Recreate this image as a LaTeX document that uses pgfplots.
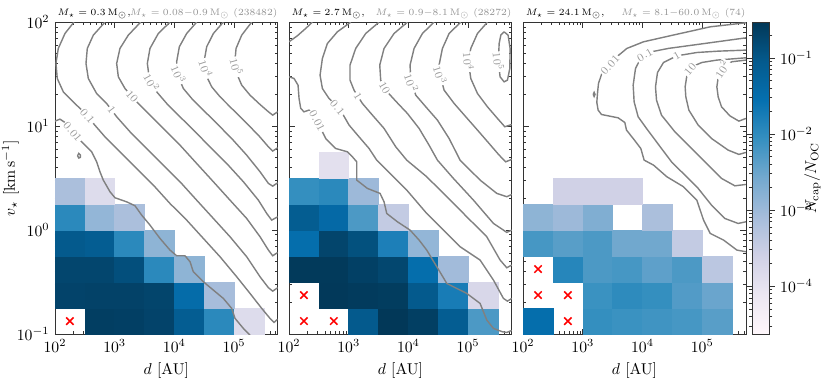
\documentclass[border=0pt]{standalone}
\usepackage{pgfplots}
\pgfplotsset{compat=1.18}

% axes are in log10 units: x = log10(d/AU), y = log10(v/km s^-1), colour = log10(Ncap/NOC)
\pgfplotsset{
  colormap={PuBu}{rgb255=(255,247,251) rgb255=(236,231,242) rgb255=(208,209,230)
    rgb255=(166,189,219) rgb255=(116,169,207) rgb255=(54,144,192) rgb255=(5,112,176)
    rgb255=(4,90,141) rgb255=(2,56,88)},
  panel/.style={
    scale only axis, width=141.9pt, height=198.7pt,
    xmin=2, xmax=5.732, ymin=-1, ymax=2,
    xtick={2,3,4,5}, xticklabels={$10^{2}$,$10^{3}$,$10^{4}$,$10^{5}$},
    minor xtick={2.301,2.477,2.602,2.699,2.778,2.845,2.903,2.954,
      3.301,3.477,3.602,3.699,3.778,3.845,3.903,3.954,
      4.301,4.477,4.602,4.699,4.778,4.845,4.903,4.954,
      5.301,5.477,5.602,5.699},
    ytick={-1,0,1,2},
    minor ytick={-0.699,-0.523,-0.398,-0.301,-0.222,-0.155,-0.097,-0.046,
      0.301,0.477,0.602,0.699,0.778,0.845,0.903,0.954,
      1.301,1.477,1.602,1.699,1.778,1.845,1.903,1.954},
    tick align=inside, major tick length=3.5pt, minor tick length=2pt,
    axis line style={black!80}, tick style={black!80, line width=0.5pt},
    xlabel={$d\ [\mathrm{AU}]$},
    clip marker paths=true,
    colormap name=PuBu, point meta min=-4.63, point meta max=-0.53,
    title style={at={(0,1)}, anchor=south west, yshift=-6pt,
      font=\fontsize{6.2}{8}\selectfont, inner xsep=1.5pt, inner ysep=1.8pt},
  },
  heat/.style={scatter, only marks, point meta=\thisrow{c}, mark=square*,
    mark size=8.28pt, mark options={xscale=1.148},
    scatter/use mapped color={draw=mapped color, fill=mapped color, line width=0.3pt}},
  ctr/.style={no marks, line width=0.9pt, color=black!50},
  xmk/.style={only marks, mark=x, mark size=3.3pt, red, mark options={line width=1pt}},
}
\tikzset{
  clab/.style={font=\fontsize{7.5}{9}\selectfont, text=black!40, fill=white, inner sep=0.6pt},
  rtitle/.style={anchor=south east, font=\fontsize{6.05}{8}\selectfont, text=black!42,
    inner xsep=0pt, inner ysep=1.8pt},
}

\begin{document}
\begin{tikzpicture}
\useasboundingbox (-35pt,-29.3pt) rectangle (488.6pt,212.8pt);

% ---------------- panel 1 ----------------
\begin{axis}[panel, at={(0pt,0pt)}, anchor=south west,
  yticklabels={$10^{-1}$,$10^{0}$,$10^{1}$,$10^{2}$},
  ylabel={$v_\star\ [\mathrm{km\,s^{-1}}]$},
  ylabel style={at={(axis description cs:-0.20,0.5)}, anchor=center},
  title={$M_\star=0.3\,\mathrm{M}_\odot$,},
  extra description/.code={\node[rtitle] at (1,1) {$M_\star=0.08{-}0.9\,\mathrm{M}_\odot$ (238482)};}]
\addplot[heat] table {
x y c
2.75 -0.875 -0.62
3.25 -0.875 -0.64
3.75 -0.875 -0.70
4.25 -0.875 -1.12
4.75 -0.875 -1.95
5.25 -0.875 -3.85
2.25 -0.625 -0.70
2.75 -0.625 -0.68
3.25 -0.625 -0.68
3.75 -0.625 -0.72
4.25 -0.625 -1.45
4.75 -0.625 -3.10
2.25 -0.375 -0.74
2.75 -0.375 -0.74
3.25 -0.375 -0.88
3.75 -0.375 -1.95
4.25 -0.375 -2.85
2.25 -0.125 -1.04
2.75 -0.125 -1.12
3.25 -0.125 -1.95
3.75 -0.125 -2.85
2.25 0.125 -1.95
2.75 0.125 -2.90
3.25 0.125 -3.15
2.25 0.375 -3.15
2.75 0.375 -3.85
};
\addplot[xmk] coordinates {(2.25,-0.875)};
\addplot[ctr] coordinates {(2.000,1.048) (2.084,1.067) (2.168,1.035) (2.251,0.978) (2.391,0.881) (2.503,0.817) (2.615,0.753) (2.698,0.657) (2.754,0.561) (2.810,0.481) (2.922,0.369) (3.006,0.311) (3.201,0.272) (3.341,0.234) (3.453,0.144) (3.592,0.048) (3.760,-0.080) (3.927,-0.192) (4.039,-0.247) (4.179,-0.247) (4.263,-0.304) (4.318,-0.401) (4.486,-0.497) (4.654,-0.577) (4.821,-0.657) (4.961,-0.753) (5.017,-0.849) (5.157,-0.946) (5.268,-1.01)};
\addplot[ctr] coordinates {(2.378,0.715) (2.400,0.738) (2.428,0.722) (2.425,0.700) (2.400,0.693) (2.378,0.715)};
\addplot[ctr] coordinates {(2.318,2.0) (2.168,1.891) (2.056,1.747) (2.017,1.603) (2.039,1.458) (2.140,1.330) (2.307,1.234) (2.475,1.138) (2.643,1.026) (2.838,0.897) (3.089,0.753) (3.369,0.593) (3.648,0.433) (3.927,0.256) (4.207,0.096) (4.486,-0.080) (4.765,-0.256) (5.045,-0.449) (5.268,-0.609) (5.464,-0.753) (5.603,-0.849) (5.670,-0.888) (5.732,-0.856)};
\addplot[ctr] coordinates {(2.838,2.0) (2.643,1.875) (2.542,1.747) (2.520,1.603) (2.559,1.458) (2.698,1.314) (2.866,1.218) (3.034,1.090) (3.257,0.946) (3.536,0.785) (3.816,0.625) (4.095,0.465) (4.374,0.288) (4.654,0.112) (4.933,-0.064) (5.212,-0.256) (5.436,-0.449) (5.576,-0.554) (5.648,-0.587) (5.732,-0.554)};
\addplot[ctr] coordinates {(3.436,2.0) (3.229,1.875) (3.089,1.747) (3.034,1.603) (3.062,1.474) (3.173,1.362) (3.341,1.250) (3.536,1.138) (3.816,0.978) (4.095,0.817) (4.374,0.641) (4.654,0.465) (4.933,0.288) (5.212,0.112) (5.436,-0.064) (5.576,-0.192) (5.648,-0.247) (5.732,-0.215)};
\addplot[ctr] coordinates {(3.927,2.0) (3.732,1.891) (3.592,1.747) (3.548,1.603) (3.581,1.458) (3.704,1.330) (3.872,1.218) (4.095,1.090) (4.319,0.962) (4.598,0.801) (4.877,0.641) (5.157,0.465) (5.408,0.288) (5.548,0.160) (5.631,0.096) (5.732,0.128)};
\addplot[ctr] coordinates {(4.374,2.0) (4.207,1.891) (4.084,1.763) (4.039,1.619) (4.067,1.474) (4.151,1.362) (4.291,1.266) (4.486,1.154) (4.710,1.026) (4.961,0.881) (5.212,0.721) (5.436,0.561) (5.576,0.449) (5.648,0.423) (5.732,0.455)};
\addplot[ctr] coordinates {(4.821,2.0) (4.654,1.891) (4.542,1.763) (4.503,1.635) (4.531,1.490) (4.626,1.378) (4.766,1.282) (4.961,1.170) (5.185,1.042) (5.408,0.913) (5.576,0.801) (5.648,0.760) (5.732,0.792)};
\addplot[ctr] coordinates {(5.296,2.0) (5.129,1.875) (5.034,1.747) (5.017,1.635) (5.045,1.506) (5.129,1.394) (5.268,1.298) (5.436,1.208) (5.576,1.138) (5.648,1.106) (5.732,1.138)};
\node[clab, rotate=-50] at (axis cs:2.296,0.945) {$0.01$};
\node[clab, rotate=-50] at (axis cs:2.542,1.095) {$0.1$};
\node[clab, rotate=-53] at (axis cs:2.950,1.155) {$1$};
\node[clab, rotate=-49] at (axis cs:3.290,1.285) {$10$};
\node[clab, rotate=-61] at (axis cs:3.620,1.420) {$10^2$};
\node[clab, rotate=-67] at (axis cs:4.070,1.500) {$10^3$};
\node[clab, rotate=-72] at (axis cs:4.525,1.554) {$10^4$};
\node[clab, rotate=-75] at (axis cs:5.040,1.570) {$10^5$};
\end{axis}

% ---------------- panel 2 ----------------
\begin{axis}[panel, at={(149.1pt,0pt)}, anchor=south west,
  yticklabels={},
  title={$M_\star=2.7\,\mathrm{M}_\odot$,},
  extra description/.code={\node[rtitle] at (1,1) {$M_\star=0.9{-}8.1\,\mathrm{M}_\odot$ (28272)};}]
\addplot[heat] table {
x y c
3.25 -0.875 -1.04
3.75 -0.875 -0.53
4.25 -0.875 -0.63
4.75 -0.875 -1.12
5.25 -0.875 -2.25
2.75 -0.625 -0.55
3.25 -0.625 -0.58
3.75 -0.625 -0.60
4.25 -0.625 -1.04
4.75 -0.625 -1.75
5.25 -0.625 -3.75
2.25 -0.375 -0.56
2.75 -0.375 -0.56
3.25 -0.375 -0.65
3.75 -0.375 -0.75
4.25 -0.375 -1.50
4.75 -0.375 -3.05
2.25 -0.125 -1.50
2.75 -0.125 -0.72
3.25 -0.125 -0.90
3.75 -0.125 -1.80
4.25 -0.125 -2.90
2.25 0.125 -1.10
2.75 0.125 -1.40
3.25 0.125 -2.25
3.75 0.125 -3.45
2.25 0.375 -2.05
2.75 0.375 -1.95
3.25 0.375 -3.00
2.75 0.625 -3.95
};
\addplot[xmk] coordinates {(2.25,-0.875) (2.75,-0.875) (2.25,-0.625)};
\addplot[ctr] coordinates {(2.391,2.0) (2.279,1.939) (2.140,1.869) (2.0,1.811)};
\addplot[ctr] coordinates {(2.0,1.474) (2.084,1.458) (2.151,1.394) (2.168,1.266) (2.196,1.170) (2.251,1.138) (2.335,1.154) (2.419,1.106) (2.503,1.010) (2.615,0.881) (2.782,0.785) (2.978,0.753) (3.062,0.705) (3.134,0.657) (3.134,0.481) (3.313,0.401) (3.525,0.353) (3.592,0.272) (3.637,0.160) (3.816,0.080) (4.028,0.000) (4.179,-0.096) (4.307,-0.192) (4.475,-0.352) (4.643,-0.513) (4.978,-0.609) (5.201,-0.705) (5.313,-0.865) (5.425,-0.946) (5.576,-0.978) (5.648,-0.984) (5.732,-0.965)};
\addplot[ctr] coordinates {(3.034,2.0) (2.810,1.907) (2.643,1.795) (2.559,1.651) (2.520,1.490) (2.559,1.362) (2.670,1.266) (2.754,1.218) (2.894,1.122) (3.006,1.010) (3.173,0.897) (3.341,0.785) (3.469,0.673) (3.693,0.545) (3.972,0.385) (4.307,0.160) (4.587,0.000) (4.866,-0.160) (5.201,-0.288) (5.425,-0.481) (5.592,-0.657) (5.659,-0.683) (5.732,-0.657)};
\addplot[ctr] coordinates {(3.508,2.0) (3.285,1.891) (3.117,1.747) (3.022,1.587) (3.022,1.442) (3.089,1.346) (3.229,1.218) (3.397,1.106) (3.592,0.978) (3.788,0.801) (3.972,0.673) (4.307,0.513) (4.643,0.321) (4.978,0.128) (5.313,-0.064) (5.536,-0.288) (5.648,-0.362) (5.732,-0.336)};
\addplot[ctr] coordinates {(3.983,2.0) (3.760,1.891) (3.592,1.747) (3.520,1.587) (3.536,1.442) (3.620,1.346) (3.788,1.240) (3.983,1.122) (4.179,0.978) (4.346,0.817) (4.486,0.673) (4.754,0.497) (5.090,0.288) (5.425,0.064) (5.592,0.000) (5.648,-0.022) (5.732,0.000)};
\addplot[ctr] coordinates {(4.430,2.0) (4.235,1.891) (4.095,1.747) (4.028,1.587) (4.039,1.442) (4.123,1.298) (4.291,1.186) (4.486,1.058) (4.682,0.881) (4.866,0.673) (5.201,0.481) (5.481,0.353) (5.648,0.321) (5.732,0.343)};
\addplot[ctr] coordinates {(4.877,2.0) (4.682,1.891) (4.570,1.747) (4.514,1.587) (4.531,1.490) (4.598,1.346) (4.766,1.218) (4.961,1.090) (5.157,0.962) (5.352,0.833) (5.520,0.721) (5.631,0.657) (5.732,0.680)};
\addplot[ctr] coordinates {(5.324,2.0) (5.157,1.891) (5.045,1.747) (5.006,1.619) (5.045,1.458) (5.157,1.314) (5.324,1.186) (5.492,1.074) (5.615,0.994) (5.732,1.016)};
\addplot[ctr] coordinates {(5.603,1.907) (5.670,1.875) (5.704,1.747) (5.699,1.554) (5.659,1.442) (5.603,1.426) (5.536,1.474) (5.508,1.619) (5.520,1.795) (5.548,1.875) (5.603,1.907)};
\node[clab, rotate=-63] at (axis cs:2.470,1.050) {$0.01$};
\node[clab, rotate=-50] at (axis cs:2.810,1.176) {$0.1$};
\node[clab, rotate=-58] at (axis cs:3.150,1.290) {$1$};
\node[clab, rotate=-60] at (axis cs:3.600,1.370) {$10$};
\node[clab, rotate=-70] at (axis cs:4.050,1.415) {$10^2$};
\node[clab, rotate=-72] at (axis cs:4.531,1.490) {$10^3$};
\node[clab, rotate=-85] at (axis cs:5.006,1.619) {$10^4$};
\node[clab, rotate=-85] at (axis cs:5.508,1.620) {$10^5$};
\end{axis}

% ---------------- panel 3 ----------------
\begin{axis}[panel, at={(298.2pt,0pt)}, anchor=south west,
  yticklabels={},
  title={$M_\star=24.1\,\mathrm{M}_\odot$,},
  extra description/.code={\node[rtitle] at (1,1) {$M_\star=8.1{-}60.0\,\mathrm{M}_\odot$ (74)};},
  colorbar, colorbar/width=10.8pt,
  colorbar style={
    at={(parent axis.north east)}, anchor=north west, xshift=-4.5pt,
    scale only axis, width=10.8pt, height=198.7pt,
    ytick={-4,-3,-2,-1}, yticklabels={$10^{-4}$,$10^{-3}$,$10^{-2}$,$10^{-1}$},
    minor ytick={-4.523,-4.398,-4.301,-4.222,-4.155,-4.097,-4.046,
      -3.699,-3.523,-3.398,-3.301,-3.222,-3.155,-3.097,-3.046,
      -2.699,-2.523,-2.398,-2.301,-2.222,-2.155,-2.097,-2.046,
      -1.699,-1.523,-1.398,-1.301,-1.222,-1.155,-1.097,-1.046,-0.699},
    tick align=outside, major tick length=3.5pt, minor tick length=2pt,
    yticklabel pos=right,
    ylabel={$N_{\mathrm{cap}}/N_{\mathrm{OC}}$},
    ylabel style={at={(axis description cs:3.55,0.5)}, anchor=center},
    axis line style={black!80}, tick style={black!80, line width=0.5pt},
  }]
\addplot[heat] table {
x y c
2.25 -0.875 -1.50
3.25 -0.875 -2.05
3.75 -0.875 -2.10
4.25 -0.875 -2.15
4.75 -0.875 -2.20
5.25 -0.875 -2.35
5.75 -0.875 -3.25
3.25 -0.625 -2.10
3.75 -0.625 -1.98
4.25 -0.625 -2.05
4.75 -0.625 -2.30
5.25 -0.625 -2.50
2.75 -0.375 -1.90
3.25 -0.375 -2.25
3.75 -0.375 -2.20
4.25 -0.375 -2.40
4.75 -0.375 -2.25
5.25 -0.375 -3.35
2.25 -0.125 -2.20
2.75 -0.125 -2.35
3.25 -0.125 -2.25
3.75 -0.125 -2.55
4.25 -0.125 -2.55
4.75 -0.125 -3.45
2.25 0.125 -2.85
2.75 0.125 -3.00
3.25 0.125 -2.70
4.25 0.125 -3.15
2.75 0.375 -3.60
3.25 0.375 -3.60
3.75 0.375 -3.60
};
\addplot[xmk] coordinates {(2.25,-0.375) (2.25,-0.625) (2.75,-0.625) (2.75,-0.875)};
\addplot[ctr] coordinates {(5.732,1.994) (5.135,1.955) (4.464,1.869) (4.017,1.811) (3.738,1.747) (3.570,1.667) (3.458,1.587) (3.319,1.506) (3.263,1.410) (3.246,1.314) (3.235,1.228) (3.257,1.154) (3.313,1.112) (3.425,1.099) (3.592,1.080) (3.704,1.035) (3.732,0.962) (3.844,0.881) (3.972,0.785) (4.028,0.673) (4.185,0.625) (4.408,0.513) (4.687,0.417) (4.911,0.288) (5.023,0.096) (5.135,-0.032) (5.358,-0.096) (5.581,-0.192) (5.732,-0.208)};
\addplot[ctr] coordinates {(3.175,1.305) (3.190,1.325) (3.205,1.305) (3.190,1.285) (3.175,1.305)};
\addplot[ctr] coordinates {(5.732,1.849) (5.045,1.795) (4.430,1.747) (4.151,1.715) (3.983,1.667) (3.883,1.554) (3.844,1.394) (3.860,1.234) (3.927,1.090) (4.067,0.978) (4.318,0.785) (4.486,0.657) (4.710,0.529) (4.933,0.401) (5.157,0.240) (5.380,0.112) (5.603,0.064) (5.732,0.080)};
\addplot[ctr] coordinates {(5.732,1.731) (5.268,1.721) (4.911,1.708) (4.576,1.676) (4.352,1.612) (4.252,1.516) (4.218,1.378) (4.235,1.250) (4.318,1.106) (4.542,0.946) (4.821,0.785) (5.101,0.625) (5.324,0.497) (5.548,0.426) (5.732,0.439)};
\addplot[ctr] coordinates {(5.732,1.657) (5.246,1.635) (4.995,1.612) (4.827,1.571) (4.743,1.484) (4.715,1.378) (4.726,1.282) (4.777,1.154) (4.933,1.010) (5.157,0.881) (5.436,0.769) (5.615,0.728) (5.732,0.747)};
\addplot[ctr] coordinates {(5.732,1.635) (5.497,1.619) (5.358,1.571) (5.274,1.490) (5.246,1.378) (5.268,1.282) (5.324,1.186) (5.464,1.099) (5.615,1.048) (5.732,1.074)};
\node[clab, rotate=48] at (axis cs:3.458,1.587) {$0.01$};
\node[clab, rotate=30] at (axis cs:4.040,1.685) {$0.1$};
\node[clab, rotate=30] at (axis cs:4.576,1.676) {$1$};
\node[clab, rotate=50] at (axis cs:4.800,1.545) {$10$};
\node[clab, rotate=57] at (axis cs:5.330,1.545) {$10^2$};
\end{axis}
\end{tikzpicture}
\end{document}
